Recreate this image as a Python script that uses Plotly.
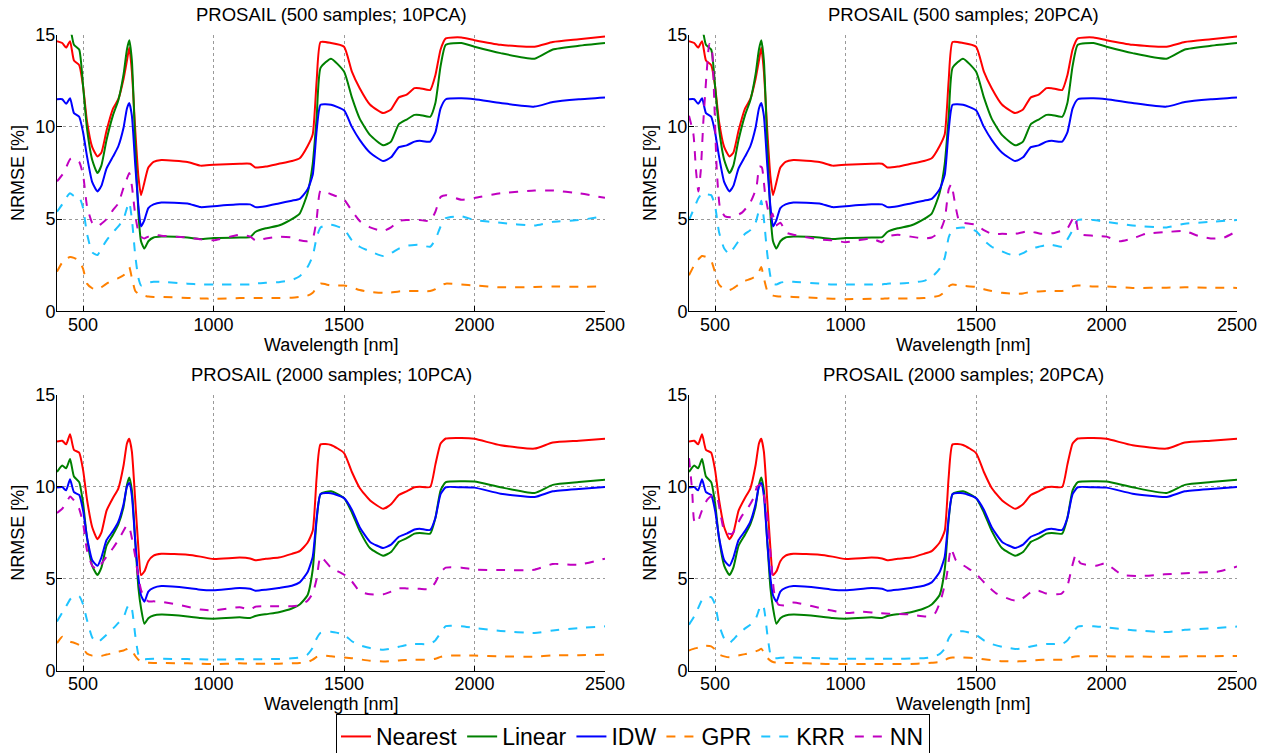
import plotly.graph_objects as go

# ---------------- data ----------------
wl = [400, 420, 435, 450, 465, 485, 500, 515, 535, 555, 570, 590, 615, 635, 655,
      668, 677, 687, 700, 712, 722, 735, 750, 770, 800, 900, 950, 1000, 1100, 1140,
      1160, 1200, 1250, 1300, 1330, 1360, 1380, 1395, 1410, 1450, 1500, 1530, 1560, 1600, 1650,
      1680, 1710, 1740, 1770, 1790, 1830, 1850, 1870, 1890, 1950, 2000, 2100, 2230, 2300, 2400,
      2500]

# 500 samples (interpolation methods identical for 10 and 20 PCA)
nearest_500 = [14.65, 14.55, 14.3, 14.65, 13.6, 13.35, 12.2, 10.3, 8.9, 8.4,
               8.6, 9.8, 11.0, 11.5, 12.6, 13.6, 14.3, 13.0, 9.8, 7.3,
               6.3, 7.0, 7.8, 8.1, 8.2, 8.1, 7.9, 7.95, 8.0, 8.0,
               7.8, 7.85, 8.0, 8.15, 8.3, 8.95, 9.6, 12.5, 14.6, 14.55,
               14.35, 13.0, 12.1, 11.2, 10.75, 10.95, 11.6, 11.75, 12.1, 12.1,
               12.0, 12.8, 14.2, 14.8, 14.85, 14.7, 14.45, 14.35, 14.6, 14.75,
               14.9]
linear_500 = [16.0, 16.0, 15.7, 15.4, 14.45, 14.2, 12.2, 9.9, 8.2, 7.5,
              7.9, 9.3, 10.65, 11.45, 12.85, 14.2, 14.7, 13.6, 9.0, 5.3,
              3.8, 3.4, 3.8, 4.0, 4.05, 4.0, 3.92, 3.98, 4.0, 4.02,
              4.3, 4.5, 4.65, 5.0, 5.3, 6.4, 8.0, 10.5, 13.2, 13.7,
              13.0, 11.6, 10.45, 9.55, 9.0, 9.2, 10.15, 10.4, 10.65, 10.65,
              10.55, 11.3, 13.3, 14.45, 14.55, 14.35, 14.0, 13.7, 14.2, 14.4,
              14.55]
idw_500 = [11.5, 11.5, 11.25, 11.55, 10.75, 10.55, 9.7, 8.4, 7.0, 6.5,
           6.8, 7.75, 8.4, 8.95, 9.95, 11.0, 11.3, 10.6, 7.9, 5.7,
           4.6, 4.95, 5.6, 5.8, 5.9, 5.85, 5.65, 5.7, 5.8, 5.8,
           5.65, 5.7, 5.85, 6.0, 6.1, 6.6, 7.4, 9.8, 11.2, 11.2,
           10.9, 10.0, 9.3, 8.6, 8.15, 8.35, 8.9, 9.0, 9.2, 9.25,
           9.2, 9.7, 11.0, 11.5, 11.55, 11.5, 11.3, 11.1, 11.35, 11.5,
           11.6]
gpr_500_10 = [2.15, 2.65, 2.85, 2.95, 2.9, 2.75, 2.3, 1.5, 1.25, 1.15,
              1.3, 1.5, 1.7, 1.8, 1.95, 2.2, 2.4, 1.8, 1.1, 0.95,
              0.9, 0.85, 0.8, 0.78, 0.78, 0.72, 0.7, 0.68, 0.72, 0.72,
              0.72, 0.72, 0.72, 0.74, 0.78, 0.85, 1.0, 1.3, 1.5, 1.4,
              1.4, 1.3, 1.15, 1.05, 1.0, 1.02, 1.08, 1.1, 1.1, 1.1,
              1.1, 1.2, 1.4, 1.5, 1.45, 1.4, 1.3, 1.32, 1.35, 1.33,
              1.35]
krr_500_10 = [5.4, 5.8, 6.15, 6.4, 6.25, 6.2, 5.6, 4.2, 3.2, 3.05,
              3.4, 3.85, 4.3, 4.6, 5.0, 5.6, 5.9, 5.0, 3.0, 1.8,
              1.4, 1.45, 1.55, 1.6, 1.6, 1.5, 1.45, 1.45, 1.45, 1.45,
              1.5, 1.55, 1.58, 1.7, 1.9, 2.4, 3.0, 4.0, 4.55, 4.7,
              4.45, 3.85, 3.5, 3.25, 3.0, 3.15, 3.4, 3.55, 3.6, 3.6,
              3.5, 3.9, 4.6, 5.05, 5.15, 4.95, 4.8, 4.65, 4.85, 4.95,
              5.15]
nn_500_10 = [7.05, 7.4, 7.8, 8.25, 8.3, 8.1, 7.4, 5.7, 4.8, 4.6,
             4.75, 5.0, 5.5, 5.85, 6.7, 7.2, 7.5, 6.8, 5.2, 4.3,
             4.05, 3.95, 4.05, 4.15, 4.1, 4.0, 3.9, 3.85, 4.15, 4.05,
             3.85, 3.95, 4.05, 4.0, 3.85, 3.8, 3.95, 5.0, 6.55, 6.35,
             6.05, 5.45, 4.9, 4.55, 4.35, 4.55, 4.9, 4.95, 4.95, 4.95,
             4.9, 5.4, 6.2, 6.3, 6.05, 6.15, 6.4, 6.55, 6.55, 6.4,
             6.15]
gpr_500_20 = [1.95, 2.5, 2.8, 3.0, 2.95, 2.75, 2.1, 1.45, 1.2, 1.15,
              1.25, 1.45, 1.65, 1.75, 1.9, 2.15, 2.4, 1.8, 1.1, 0.9,
              0.85, 0.82, 0.8, 0.8, 0.78, 0.72, 0.68, 0.66, 0.68, 0.68,
              0.7, 0.7, 0.7, 0.72, 0.76, 0.85, 1.05, 1.35, 1.45, 1.38,
              1.32, 1.2, 1.1, 1.0, 0.95, 0.97, 1.05, 1.08, 1.1, 1.1,
              1.1, 1.2, 1.35, 1.4, 1.35, 1.35, 1.27, 1.28, 1.3, 1.28,
              1.27]
krr_500_20 = [4.95, 5.6, 6.1, 6.4, 6.35, 6.3, 5.7, 4.3, 3.4, 3.1,
              3.4, 3.8, 4.2, 4.4, 4.8, 5.5, 6.0, 5.0, 3.1, 1.9,
              1.5, 1.45, 1.55, 1.6, 1.6, 1.5, 1.45, 1.45, 1.45, 1.45,
              1.5, 1.5, 1.55, 1.65, 1.85, 2.3, 2.9, 4.0, 4.45, 4.55,
              4.35, 3.85, 3.5, 3.25, 3.0, 3.15, 3.4, 3.5, 3.6, 3.6,
              3.5, 3.9, 4.4, 4.95, 4.95, 4.85, 4.65, 4.55, 4.75, 4.85,
              4.95]
wl_nn_500_20 = [400, 417, 427, 436, 445, 455, 468, 478, 487, 496, 506, 519, 538, 564, 603,
                635, 658, 670, 679, 692, 705, 712, 720, 732, 750, 775, 800, 900, 950, 1000,
                1050, 1100, 1140, 1160, 1200, 1250, 1300, 1330, 1360, 1380, 1395, 1405, 1420,
                1435, 1450, 1500, 1530, 1560, 1600, 1650, 1700, 1750, 1800, 1850, 1870, 1880,
                1895, 1950, 2000, 2050, 2100, 2150, 2230, 2300, 2350, 2400, 2450, 2500]
nn_500_20 = [10.6, 9.6, 7.6, 6.5, 7.6, 10.3, 13.0, 14.5, 14.3, 11.75, 7.8, 5.6, 5.15, 5.1, 5.35,
             5.9, 6.7, 7.85, 7.8, 6.3, 5.35, 5.05, 5.3, 4.65, 4.8, 4.25, 4.15, 3.9, 3.85, 3.75,
             3.85, 3.95, 3.75, 4.05, 4.15, 4.05, 3.95, 4.0, 4.3, 5.0, 6.6, 6.9, 5.8,
             4.9, 4.8, 4.7, 4.4, 4.2, 4.2, 4.2, 4.35, 4.2, 4.25, 4.5, 5.0, 5.15,
             4.2, 4.1, 4.05, 3.8, 3.95, 4.2, 4.3, 4.35, 4.1, 3.95, 4.0, 4.35]

# 2000 samples
nearest_2000 = [12.45, 12.5, 12.3, 12.85, 12.0, 11.85, 10.9, 9.3, 7.8, 7.15,
                7.5, 8.7, 9.4, 9.9, 11.15, 12.35, 12.6, 11.9, 9.2, 6.65,
                5.2, 5.4, 5.95, 6.25, 6.35, 6.3, 6.2, 6.07, 6.15, 6.1,
                6.0, 6.08, 6.15, 6.35, 6.5, 6.95, 7.6, 10.5, 12.3, 12.27,
                11.83, 10.8, 9.93, 9.25, 8.8, 9.05, 9.55, 9.75, 9.97, 10.0,
                9.98, 11.2, 12.35, 12.62, 12.65, 12.6, 12.25, 12.07, 12.4, 12.5,
                12.6]
linear_2000 = [10.8, 11.15, 11.0, 11.5, 10.55, 10.25, 9.1, 7.2, 5.7, 5.2,
               5.6, 6.8, 7.4, 7.95, 8.9, 10.1, 10.5, 9.8, 7.0, 4.5,
               3.4, 2.55, 2.85, 3.0, 3.05, 2.95, 2.86, 2.83, 2.9, 2.86,
               2.97, 3.07, 3.18, 3.38, 3.6, 4.1, 5.5, 8.2, 9.6, 9.75,
               9.38, 8.6, 7.6, 6.65, 6.25, 6.45, 7.0, 7.2, 7.45, 7.48,
               7.45, 8.3, 9.8, 10.25, 10.3, 10.28, 9.97, 9.66, 10.1, 10.25,
               10.38]
idw_2000 = [9.95, 9.98, 9.8, 10.4, 9.7, 9.55, 8.7, 7.25, 6.0, 5.7,
            6.15, 7.1, 7.6, 8.1, 9.05, 10.0, 10.2, 9.5, 7.0, 5.05,
            4.1, 3.75, 4.3, 4.5, 4.6, 4.5, 4.4, 4.37, 4.5, 4.45,
            4.35, 4.4, 4.5, 4.62, 4.8, 5.35, 6.2, 8.3, 9.6, 9.65,
            9.38, 8.75, 7.8, 7.0, 6.67, 6.85, 7.28, 7.45, 7.67, 7.72,
            7.65, 8.3, 9.6, 9.97, 9.97, 9.95, 9.62, 9.44, 9.75, 9.88,
            9.98]
gpr_2000_10 = [1.5, 1.85, 1.7, 1.58, 1.52, 1.4, 1.2, 0.93, 0.82, 0.78,
               0.8, 0.88, 0.95, 1.03, 1.1, 1.18, 1.23, 1.08, 0.8, 0.6,
               0.5, 0.45, 0.43, 0.42, 0.42, 0.4, 0.38, 0.36, 0.4, 0.38,
               0.38, 0.38, 0.38, 0.4, 0.42, 0.47, 0.6, 0.75, 0.83, 0.78,
               0.72, 0.68, 0.62, 0.54, 0.5, 0.52, 0.56, 0.58, 0.6, 0.6,
               0.6, 0.65, 0.75, 0.82, 0.82, 0.82, 0.78, 0.76, 0.83, 0.84,
               0.87]
krr_2000_10 = [2.68, 3.15, 3.5, 3.87, 4.05, 4.05, 3.6, 2.75, 1.8, 1.52,
               1.7, 1.96, 2.3, 2.6, 2.9, 3.4, 3.6, 3.35, 1.9, 0.87,
               0.65, 0.62, 0.64, 0.65, 0.65, 0.63, 0.62, 0.6, 0.63, 0.62,
               0.62, 0.63, 0.64, 0.67, 0.72, 0.88, 1.25, 1.75, 2.05, 2.12,
               1.96, 1.6, 1.38, 1.23, 1.14, 1.2, 1.3, 1.4, 1.45, 1.45,
               1.45, 1.65, 2.05, 2.42, 2.42, 2.32, 2.16, 2.05, 2.19, 2.32,
               2.41]
nn_2000_10 = [8.57, 8.8, 9.1, 9.47, 9.25, 8.8, 8.0, 6.55, 5.7, 5.5,
              5.8, 6.2, 6.67, 7.1, 7.6, 7.9, 7.8, 7.2, 6.2, 5.04,
              4.4, 3.95, 3.77, 3.77, 3.75, 3.48, 3.32, 3.28, 3.45, 3.32,
              3.48, 3.5, 3.5, 3.5, 3.55, 3.8, 4.2, 5.0, 6.2, 5.6,
              5.22, 4.85, 4.31, 4.15, 4.15, 4.3, 4.48, 4.47, 4.46, 4.45,
              4.44, 4.8, 5.35, 5.6, 5.6, 5.5, 5.47, 5.49, 5.8, 5.76,
              6.09]
gpr_2000_20 = [1.1, 1.2, 1.25, 1.32, 1.35, 1.32, 1.15, 0.88, 0.78, 0.73,
               0.77, 0.83, 0.9, 0.98, 1.05, 1.12, 1.2, 1.0, 0.7, 0.55,
               0.47, 0.44, 0.42, 0.42, 0.42, 0.38, 0.36, 0.36, 0.37, 0.36,
               0.36, 0.36, 0.37, 0.4, 0.43, 0.47, 0.58, 0.68, 0.72, 0.72,
               0.68, 0.62, 0.57, 0.52, 0.5, 0.52, 0.55, 0.58, 0.6, 0.6,
               0.6, 0.65, 0.74, 0.78, 0.78, 0.78, 0.77, 0.76, 0.78, 0.79,
               0.8]
krr_2000_20 = [2.5, 2.95, 3.4, 3.85, 3.95, 4.0, 3.6, 2.5, 1.75, 1.5,
               1.7, 2.0, 2.3, 2.5, 2.8, 3.3, 3.6, 3.4, 2.0, 0.9,
               0.68, 0.68, 0.7, 0.72, 0.72, 0.68, 0.65, 0.65, 0.65, 0.65,
               0.65, 0.65, 0.66, 0.68, 0.74, 0.9, 1.2, 1.75, 2.05, 2.15,
               1.95, 1.65, 1.45, 1.3, 1.18, 1.22, 1.32, 1.4, 1.45, 1.45,
               1.45, 1.65, 2.05, 2.4, 2.42, 2.35, 2.2, 2.1, 2.22, 2.3,
               2.4]
wl_nn_2000_20 = [400, 412, 419, 426, 434, 448, 470, 492, 507, 522, 536, 551, 566, 580, 602,
                 624, 646, 661, 671, 683, 698, 712, 727, 742, 771, 800, 874, 947, 1005, 1064,
                 1108, 1167, 1240, 1313, 1343, 1365, 1387, 1404, 1423, 1460, 1498, 1534, 1577,
                 1636, 1665, 1709, 1739, 1768, 1826, 1849, 1868, 1882, 1900, 1959, 1996, 2032,
                 2061, 2135, 2223, 2340, 2428, 2500]
nn_2000_20 = [11.55, 9.8, 8.2, 8.0, 8.1, 8.65, 9.3, 9.55, 9.45, 8.4, 7.55, 7.45, 7.45, 7.8, 8.4,
              8.8, 9.35, 10.0, 10.1, 9.8, 8.55, 6.4, 4.2, 3.6, 3.55, 3.7, 3.5, 3.27, 3.13, 3.2,
              3.16, 3.1, 3.07, 2.95, 3.13, 3.85, 5.1, 6.65, 6.0, 5.65, 5.3, 4.75, 4.2,
              3.85, 3.8, 4.25, 4.35, 4.2, 4.18, 4.57, 5.66, 6.3, 5.84, 5.7, 5.84, 5.48,
              5.2, 5.15, 5.24, 5.33, 5.39, 5.66]

titles = ["PROSAIL (500 samples; 10PCA)", "PROSAIL (500 samples; 20PCA)",
          "PROSAIL (2000 samples; 10PCA)", "PROSAIL (2000 samples; 20PCA)"]
x_ticks = [500, 1000, 1500, 2000, 2500]
y_ticks = [0, 5, 10, 15]

names = ["Nearest", "Linear", "IDW", "GPR", "KRR", "NN"]
colors = ["#ff0000", "#008000", "#0000ff", "#ff8000", "#1ec3ff", "#c000c0"]
dashes = ["solid", "solid", "solid", "dash", "dash", "dash"]

panels = [
    [(wl, nearest_500), (wl, linear_500), (wl, idw_500), (wl, gpr_500_10), (wl, krr_500_10), (wl, nn_500_10)],
    [(wl, nearest_500), (wl, linear_500), (wl, idw_500), (wl, gpr_500_20), (wl, krr_500_20), (wl_nn_500_20, nn_500_20)],
    [(wl, nearest_2000), (wl, linear_2000), (wl, idw_2000), (wl, gpr_2000_10), (wl, krr_2000_10), (wl, nn_2000_10)],
    [(wl, nearest_2000), (wl, linear_2000), (wl, idw_2000), (wl, gpr_2000_20), (wl, krr_2000_20), (wl_nn_2000_20, nn_2000_20)],
]
for p in panels:
    for xs, ys in p:
        assert len(xs) == len(ys), (len(xs), len(ys))

# ---------------- layout geometry (page pixels) ----------------
W, H = 1271, 753
xdom_px = [(57, 605), (689, 1237)]
ydom_px = [(34.7, 311.3), (394.7, 670.7)]
FONT = "Liberation Sans, Arial, sans-serif"
FS = 18

fig = go.Figure()
annotations = []
layout_axes = {}
for k in range(4):
    r, c = divmod(k, 2)
    xa = "x" if k == 0 else f"x{k+1}"
    ya = "y" if k == 0 else f"y{k+1}"
    for j, (xs, ys) in enumerate(panels[k]):
        fig.add_trace(go.Scatter(
            x=xs, y=ys, mode="lines", name=names[j],
            line=dict(color=colors[j], width=2, dash=dashes[j],
                      shape="spline", smoothing=0.5),
            showlegend=(k == 0), legendgroup=names[j],
            xaxis=xa, yaxis=ya))
    x0, x1 = xdom_px[c]
    y0, y1 = ydom_px[r]
    common = dict(showline=True, linecolor="black", linewidth=1, mirror=False,
                  ticks="inside", ticklen=5, tickcolor="black", automargin=False,
                  ticklabelstandoff=-3,
                  showgrid=True, gridcolor="#9a9a9a", gridwidth=1, griddash="dot",
                  zeroline=False, tickfont=dict(family=FONT, size=FS, color="black"))
    layout_axes["xaxis" if k == 0 else f"xaxis{k+1}"] = dict(
        domain=[x0 / W, x1 / W], anchor=ya, range=[400, 2500],
        tickvals=x_ticks, **common)
    layout_axes["yaxis" if k == 0 else f"yaxis{k+1}"] = dict(
        domain=[1 - y1 / H, 1 - y0 / H], anchor=xa, range=[0, 15],
        tickvals=y_ticks, **common)
    # subplot title
    annotations.append(dict(text=titles[k], x=(x0 + x1) / 2 / W, y=1 - (y0 - 20) / H,
                            xref="paper", yref="paper", showarrow=False,
                            xanchor="center", yanchor="middle",
                            font=dict(family=FONT, size=18.5, color="black")))
    # x title
    annotations.append(dict(text="Wavelength [nm]", x=(x0 + x1) / 2 / W, y=1 - (y1 + 33.5) / H,
                            xref="paper", yref="paper", showarrow=False,
                            xanchor="center", yanchor="middle",
                            font=dict(family=FONT, size=FS, color="black")))
    # y title
    annotations.append(dict(text="NRMSE [%]", x=(x0 - 39) / W, y=1 - (y0 + y1) / 2 / H,
                            xref="paper", yref="paper", showarrow=False, textangle=-90,
                            xanchor="center", yanchor="middle",
                            font=dict(family=FONT, size=FS, color="black")))

fig.update_layout(
    width=W, height=H, autosize=False,
    margin=dict(l=0, r=0, t=0, b=0, pad=0, autoexpand=False),
    paper_bgcolor="white", plot_bgcolor="white",
    font=dict(family=FONT, size=FS, color="black"),
    annotations=annotations,
    legend=dict(orientation="h", x=633 / W, xanchor="center",
                y=1 - 714 / H, yanchor="top",
                bordercolor="black", borderwidth=1, bgcolor="white",
                font=dict(family=FONT, size=23, color="black"),
                tracegroupgap=0),
    **layout_axes,
)

# remove the default 8px page-body margin so the figure sits at the page origin
fig.write_html("out.html",
               config={"displayModeBar": False, "staticPlot": True},
               post_script="document.body.style.margin='0';document.body.style.overflow='hidden';")
